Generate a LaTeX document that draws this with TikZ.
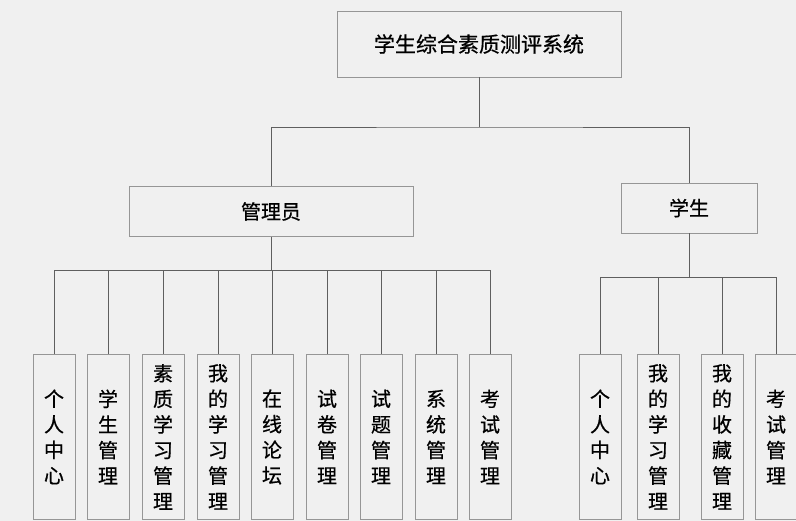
\documentclass[tikz,border=0pt]{standalone}
\usepackage{fontspec}
\newfontfamily\cjk[FakeBold=0.6]{Noto Sans CJK SC}
\definecolor{bggray}{RGB}{240,240,240}
\definecolor{boxline}{RGB}{150,150,150}
\definecolor{linkline}{RGB}{95,95,95}

\begin{document}
\begin{tikzpicture}[x=1pt,y=-1pt,
% Box styles
		sys/.style={rectangle
							    , fill=bggray
							    , draw=boxline, line width=0.9pt
							    , minimum width=284pt
							    , minimum height=66pt
							    , inner sep=0pt
							    , font=\cjk\fontsize{21}{24}\selectfont},
		role/.style={rectangle
							    , fill=bggray
							    , draw=boxline, line width=0.9pt
							    , minimum height=50pt
							    , inner sep=0pt
							    , font=\cjk\fontsize{20}{24}\selectfont},
		leaf/.style={rectangle
							    , fill=bggray
							    , draw=boxline, line width=0.9pt
							    , minimum width=42pt
							    , minimum height=165pt
							    , text width=22pt
							    , align=center
							    , inner sep=0pt
							    , anchor=north
							    , font=\cjk\fontsize{20}{25.6}\selectfont},
% Connector style
		link/.style={draw=linkline, line width=0.9pt}
	]
	\useasboundingbox[fill=bggray] (0,0) rectangle (796,521);
%% Top levels
	\node [sys] (sys) at (479,44) {学生综合素质测评系统};
	\node [role, minimum width=284pt] (admin) at (271,211.5) {管理员};
	\node [role, minimum width=136pt] (stu) at (689,208) {学生};
	\coordinate (j0) at (479,127);
	\draw [link] (sys.south) -- (j0);
	\draw [link] (admin.north) |- (j0) -| (stu.north);
%% Admin functions
	\coordinate (abus) at ([yshift=-34pt]admin.south);
	\draw [link] (admin.south) -- (abus);
	\foreach \x/\t [count=\i] in {54/{个\\人\\中\\心}
	                            , 108/{学\\生\\管\\理}
	                            , 163/{素\\质\\学\\习\\管\\理}
	                            , 218/{我\\的\\学\\习\\管\\理}
	                            , 272/{在\\线\\论\\坛}
	                            , 327/{试\\卷\\管\\理}
	                            , 381/{试\\题\\管\\理}
	                            , 436/{系\\统\\管\\理}
	                            , 490/{考\\试\\管\\理}}
	{
		\node [leaf] (a\i) at (\x,354) {\t};
		\draw [link] (abus) -| (a\i.north);
	}
%% Student functions
	\coordinate (sbus) at ([yshift=-44pt]stu.south);
	\draw [link] (stu.south) -- (sbus);
	\foreach \x/\t [count=\i] in {600/{个\\人\\中\\心}
	                            , 658/{我\\的\\学\\习\\管\\理}
	                            , 722/{我\\的\\收\\藏\\管\\理}
	                            , 776/{考\\试\\管\\理}}
	{
		\node [leaf] (s\i) at (\x,354) {\t};
		\draw [link] (sbus) -| (s\i.north);
	}
\end{tikzpicture}
\end{document}
